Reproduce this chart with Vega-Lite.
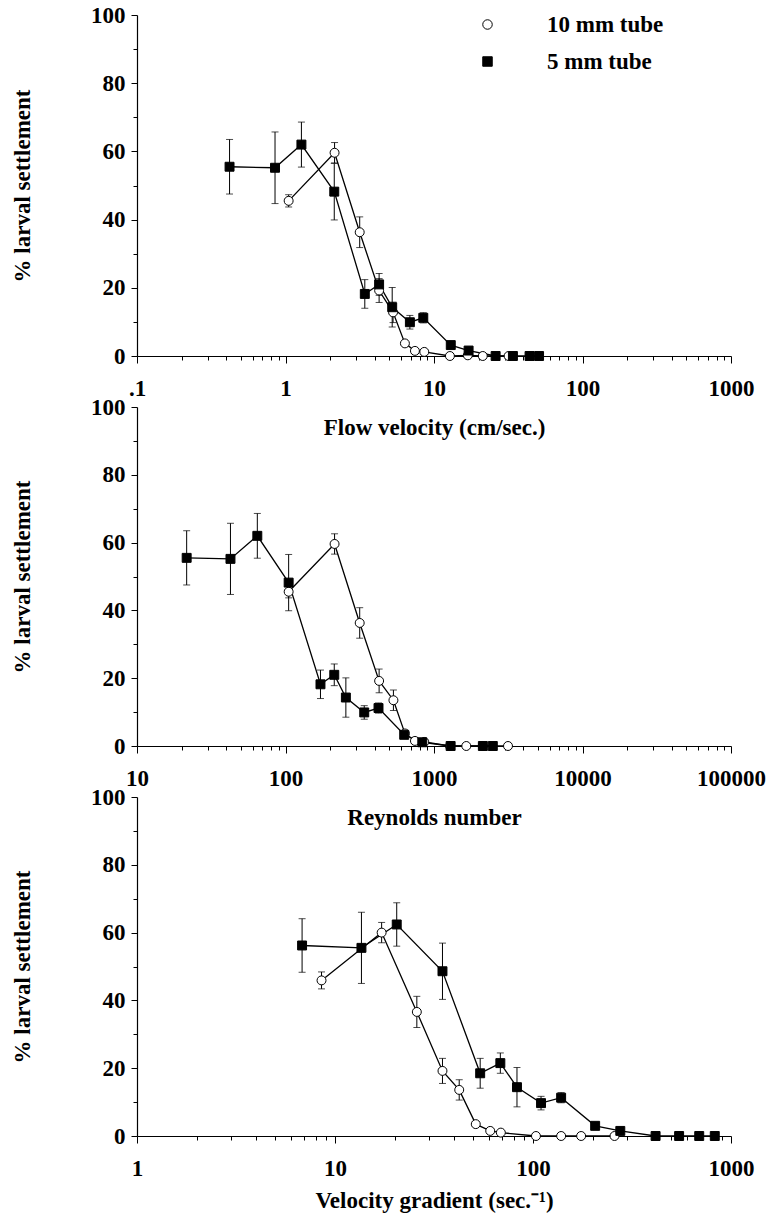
{
  "$schema": "https://vega.github.io/schema/vega-lite/v6.json",
  "padding": {"left": 11, "top": 4, "right": 5, "bottom": 5},
  "background": "white",
  "bounds": "flush",
  "spacing": 51,
  "config": {
    "view": {"stroke": null},
    "axis": {
      "labelFont": "Liberation Serif", "labelFontSize": 23, "labelFontWeight": "bold", "labelColor": "black",
      "titleFont": "Liberation Serif", "titleFontSize": 23, "titleFontWeight": "bold", "titleColor": "black",
      "domainColor": "black", "domainWidth": 1.2, "tickColor": "black", "tickWidth": 1, "grid": false,
      "labelOverlap": false, "labelFlush": false
    },
    "legend": {"labelFont": "Liberation Serif", "labelFontSize": 23, "labelFontWeight": "bold", "labelColor": "black"}
  },
  "datasets": {
    "vel": [
      {"tube": "10 mm tube", "x": 1.05, "y": 45.5, "e": 1.8},
      {"tube": "10 mm tube", "x": 2.14, "y": 59.6, "e": 3},
      {"tube": "10 mm tube", "x": 3.16, "y": 36.3, "e": 4.5},
      {"tube": "10 mm tube", "x": 4.27, "y": 19.2, "e": 3.5},
      {"tube": "10 mm tube", "x": 5.3, "y": 12.8, "e": 3},
      {"tube": "10 mm tube", "x": 6.37, "y": 3.7, "e": 0},
      {"tube": "10 mm tube", "x": 7.44, "y": 1.5, "e": 0},
      {"tube": "10 mm tube", "x": 8.6, "y": 1.2, "e": 0},
      {"tube": "10 mm tube", "x": 12.8, "y": 0, "e": 0},
      {"tube": "10 mm tube", "x": 16.9, "y": 0.2, "e": 0},
      {"tube": "10 mm tube", "x": 21.3, "y": 0, "e": 0},
      {"tube": "10 mm tube", "x": 31.8, "y": 0, "e": 0},
      {"tube": "5 mm tube", "x": 0.42, "y": 55.5, "e": 8},
      {"tube": "5 mm tube", "x": 0.85, "y": 55.2, "e": 10.5},
      {"tube": "5 mm tube", "x": 1.28, "y": 62.0, "e": 6.6},
      {"tube": "5 mm tube", "x": 2.13, "y": 48.2, "e": 8.3},
      {"tube": "5 mm tube", "x": 3.42, "y": 18.2, "e": 4.2},
      {"tube": "5 mm tube", "x": 4.27, "y": 21.0, "e": 3.2},
      {"tube": "5 mm tube", "x": 5.23, "y": 14.3, "e": 5.8},
      {"tube": "5 mm tube", "x": 6.88, "y": 9.9, "e": 2},
      {"tube": "5 mm tube", "x": 8.47, "y": 11.2, "e": 1.5},
      {"tube": "5 mm tube", "x": 12.97, "y": 3.2, "e": 0},
      {"tube": "5 mm tube", "x": 17.1, "y": 1.6, "e": 0},
      {"tube": "5 mm tube", "x": 26, "y": 0, "e": 0},
      {"tube": "5 mm tube", "x": 34, "y": 0, "e": 0},
      {"tube": "5 mm tube", "x": 44, "y": 0, "e": 0},
      {"tube": "5 mm tube", "x": 51, "y": 0, "e": 0}
    ],
    "re": [
      {"tube": "10 mm tube", "x": 105, "y": 45.5, "e": 1.8},
      {"tube": "10 mm tube", "x": 214, "y": 59.6, "e": 3},
      {"tube": "10 mm tube", "x": 316, "y": 36.3, "e": 4.5},
      {"tube": "10 mm tube", "x": 427, "y": 19.2, "e": 3.5},
      {"tube": "10 mm tube", "x": 533, "y": 13.5, "e": 3},
      {"tube": "10 mm tube", "x": 637, "y": 3.7, "e": 0},
      {"tube": "10 mm tube", "x": 744, "y": 1.5, "e": 0},
      {"tube": "10 mm tube", "x": 860, "y": 1.2, "e": 0},
      {"tube": "10 mm tube", "x": 1280, "y": 0, "e": 0},
      {"tube": "10 mm tube", "x": 1650, "y": 0, "e": 0},
      {"tube": "10 mm tube", "x": 2130, "y": 0, "e": 0},
      {"tube": "10 mm tube", "x": 3150, "y": 0, "e": 0},
      {"tube": "5 mm tube", "x": 21.6, "y": 55.5, "e": 8},
      {"tube": "5 mm tube", "x": 42.6, "y": 55.2, "e": 10.5},
      {"tube": "5 mm tube", "x": 64.6, "y": 62.0, "e": 6.6},
      {"tube": "5 mm tube", "x": 105, "y": 48.2, "e": 8.3},
      {"tube": "5 mm tube", "x": 172, "y": 18.2, "e": 4.2},
      {"tube": "5 mm tube", "x": 213, "y": 21.0, "e": 3.2},
      {"tube": "5 mm tube", "x": 255, "y": 14.3, "e": 5.8},
      {"tube": "5 mm tube", "x": 339, "y": 9.9, "e": 2},
      {"tube": "5 mm tube", "x": 423, "y": 11.2, "e": 1.5},
      {"tube": "5 mm tube", "x": 630, "y": 3.3, "e": 0},
      {"tube": "5 mm tube", "x": 834, "y": 1.1, "e": 0},
      {"tube": "5 mm tube", "x": 1294, "y": 0, "e": 0},
      {"tube": "5 mm tube", "x": 2133, "y": 0, "e": 0},
      {"tube": "5 mm tube", "x": 2489, "y": 0, "e": 0}
    ],
    "grad": [
      {"tube": "10 mm tube", "x": 8.55, "y": 45.9, "e": 2.5},
      {"tube": "10 mm tube", "x": 17.2, "y": 60.0, "e": 3},
      {"tube": "10 mm tube", "x": 25.9, "y": 36.6, "e": 4.6},
      {"tube": "10 mm tube", "x": 34.9, "y": 19.2, "e": 3.7},
      {"tube": "10 mm tube", "x": 42.4, "y": 13.6, "e": 3},
      {"tube": "10 mm tube", "x": 51.4, "y": 3.5, "e": 0},
      {"tube": "10 mm tube", "x": 60.8, "y": 1.5, "e": 0},
      {"tube": "10 mm tube", "x": 68.8, "y": 1.0, "e": 0},
      {"tube": "10 mm tube", "x": 103.5, "y": 0, "e": 0},
      {"tube": "10 mm tube", "x": 138.7, "y": 0, "e": 0},
      {"tube": "10 mm tube", "x": 175, "y": 0, "e": 0},
      {"tube": "10 mm tube", "x": 258, "y": 0, "e": 0},
      {"tube": "5 mm tube", "x": 6.82, "y": 56.2, "e": 7.9},
      {"tube": "5 mm tube", "x": 13.6, "y": 55.5, "e": 10.5},
      {"tube": "5 mm tube", "x": 20.5, "y": 62.4, "e": 6.4},
      {"tube": "5 mm tube", "x": 34.9, "y": 48.6, "e": 8.3},
      {"tube": "5 mm tube", "x": 54.1, "y": 18.5, "e": 4.4},
      {"tube": "5 mm tube", "x": 68.4, "y": 21.5, "e": 3},
      {"tube": "5 mm tube", "x": 83, "y": 14.4, "e": 5.8},
      {"tube": "5 mm tube", "x": 109.8, "y": 9.7, "e": 2},
      {"tube": "5 mm tube", "x": 138.7, "y": 11.3, "e": 1.5},
      {"tube": "5 mm tube", "x": 206, "y": 3.0, "e": 0},
      {"tube": "5 mm tube", "x": 276, "y": 1.5, "e": 0},
      {"tube": "5 mm tube", "x": 416, "y": 0, "e": 0},
      {"tube": "5 mm tube", "x": 547, "y": 0, "e": 0},
      {"tube": "5 mm tube", "x": 691, "y": 0, "e": 0},
      {"tube": "5 mm tube", "x": 828, "y": 0, "e": 0}
    ]
  },
  "vconcat": [
    {
      "width": 594, "height": 341,
      "data": {"name": "vel"},
      "layer": [
        {"mark": {"type": "line", "color": "black", "strokeWidth": 1.3},
         "encoding": {"x": {"field": "x", "type": "quantitative"}, "y": {"field": "y", "type": "quantitative"}, "detail": {"field": "tube"}}},
        {"transform": [{"filter": "datum.e > 0"}],
         "mark": {"type": "errorbar", "color": "black", "ticks": {"size": 7, "color": "black"}, "rule": {"strokeWidth": 1}},
         "encoding": {"x": {"field": "x", "type": "quantitative"}, "y": {"field": "y", "type": "quantitative"}, "yError": {"field": "e"}}},
        {"mark": {"type": "point", "filled": true, "strokeWidth": 1, "opacity": 1, "size": 80},
         "encoding": {
           "x": {"field": "x", "type": "quantitative"},
           "y": {"field": "y", "type": "quantitative"},
           "shape": {"field": "tube", "type": "nominal", "scale": {"domain": ["10 mm tube", "5 mm tube"], "range": ["circle", "square"]},
             "legend": {"orient": "none", "legendX": 339, "legendY": -2, "title": null, "padding": 0, "symbolSize": 90, "labelOffset": 48, "rowPadding": 13, "symbolStrokeWidth": 1}},
           "fill": {"field": "tube", "type": "nominal", "scale": {"domain": ["10 mm tube", "5 mm tube"], "range": ["white", "black"]}},
           "stroke": {"field": "tube", "type": "nominal", "scale": {"domain": ["10 mm tube", "5 mm tube"], "range": ["black", "black"]}}
         }}
      ],
      "encoding": {
        "x": {"field": "x", "type": "quantitative",
          "scale": {"type": "log", "domain": [0.1, 1000], "nice": false},
          "axis": {"title": "Flow velocity (cm/sec.)",
            "values": [0.1,0.2,0.3,0.4,0.5,0.6,0.7,0.8,0.9,1,2,3,4,5,6,7,8,9,10,20,30,40,50,60,70,80,90,100,200,300,400,500,600,700,800,900,1000],
            "labelExpr": "abs(log(datum.value)/LN10 - round(log(datum.value)/LN10)) < 0.001 ? (datum.value < 1 ? '.1' : format(datum.value, 'd')) : ''",
            "tickSize": {"condition": {"test": "abs(log(datum.value)/LN10 - round(log(datum.value)/LN10)) < 0.001", "value": 7}, "value": 4},
            "labelPadding": 14, "titlePadding": 16}},
        "y": {"field": "y", "type": "quantitative",
          "scale": {"domain": [0, 100], "nice": false},
          "axis": {"title": "% larval settlement", "values": [0,10,20,30,40,50,60,70,80,90,100],
            "labelExpr": "datum.value % 20 == 0 ? format(datum.value, 'd') : ''",
            "tickSize": {"condition": {"test": "datum.value % 20 == 0", "value": 6}, "value": 4},
            "labelPadding": 6, "titlePadding": 56}}
      }
    },
    {
      "width": 594, "height": 339,
      "data": {"name": "re"},
      "layer": [
        {"mark": {"type": "line", "color": "black", "strokeWidth": 1.3},
         "encoding": {"x": {"field": "x", "type": "quantitative"}, "y": {"field": "y", "type": "quantitative"}, "detail": {"field": "tube"}}},
        {"transform": [{"filter": "datum.e > 0"}],
         "mark": {"type": "errorbar", "color": "black", "ticks": {"size": 7, "color": "black"}, "rule": {"strokeWidth": 1}},
         "encoding": {"x": {"field": "x", "type": "quantitative"}, "y": {"field": "y", "type": "quantitative"}, "yError": {"field": "e"}}},
        {"mark": {"type": "point", "filled": true, "stroke": "black", "strokeWidth": 1, "opacity": 1, "size": 80},
         "encoding": {
           "x": {"field": "x", "type": "quantitative"},
           "y": {"field": "y", "type": "quantitative"},
           "shape": {"field": "tube", "type": "nominal", "scale": {"domain": ["10 mm tube", "5 mm tube"], "range": ["circle", "square"]}, "legend": null},
           "fill": {"field": "tube", "type": "nominal", "scale": {"domain": ["10 mm tube", "5 mm tube"], "range": ["white", "black"]}, "legend": null}
         }}
      ],
      "encoding": {
        "x": {"field": "x", "type": "quantitative",
          "scale": {"type": "log", "domain": [10, 100000], "nice": false},
          "axis": {"title": "Reynolds number",
            "values": [10,20,30,40,50,60,70,80,90,100,200,300,400,500,600,700,800,900,1000,2000,3000,4000,5000,6000,7000,8000,9000,10000,20000,30000,40000,50000,60000,70000,80000,90000,100000],
            "labelExpr": "abs(log(datum.value)/LN10 - round(log(datum.value)/LN10)) < 0.001 ? format(datum.value, 'd') : ''",
            "tickSize": {"condition": {"test": "abs(log(datum.value)/LN10 - round(log(datum.value)/LN10)) < 0.001", "value": 7}, "value": 4},
            "labelPadding": 14, "titlePadding": 16}},
        "y": {"field": "y", "type": "quantitative",
          "scale": {"domain": [0, 100], "nice": false},
          "axis": {"title": "% larval settlement", "values": [0,10,20,30,40,50,60,70,80,90,100],
            "labelExpr": "datum.value % 20 == 0 ? format(datum.value, 'd') : ''",
            "tickSize": {"condition": {"test": "datum.value % 20 == 0", "value": 6}, "value": 4},
            "labelPadding": 6, "titlePadding": 56}}
      }
    },
    {
      "width": 594, "height": 339,
      "data": {"name": "grad"},
      "layer": [
        {"mark": {"type": "line", "color": "black", "strokeWidth": 1.3},
         "encoding": {"x": {"field": "x", "type": "quantitative"}, "y": {"field": "y", "type": "quantitative"}, "detail": {"field": "tube"}}},
        {"transform": [{"filter": "datum.e > 0"}],
         "mark": {"type": "errorbar", "color": "black", "ticks": {"size": 7, "color": "black"}, "rule": {"strokeWidth": 1}},
         "encoding": {"x": {"field": "x", "type": "quantitative"}, "y": {"field": "y", "type": "quantitative"}, "yError": {"field": "e"}}},
        {"mark": {"type": "point", "filled": true, "stroke": "black", "strokeWidth": 1, "opacity": 1, "size": 80},
         "encoding": {
           "x": {"field": "x", "type": "quantitative"},
           "y": {"field": "y", "type": "quantitative"},
           "shape": {"field": "tube", "type": "nominal", "scale": {"domain": ["10 mm tube", "5 mm tube"], "range": ["circle", "square"]}, "legend": null},
           "fill": {"field": "tube", "type": "nominal", "scale": {"domain": ["10 mm tube", "5 mm tube"], "range": ["white", "black"]}, "legend": null}
         }}
      ],
      "encoding": {
        "x": {"field": "x", "type": "quantitative",
          "scale": {"type": "log", "domain": [1, 1000], "nice": false},
          "axis": {"title": "Velocity gradient (sec.⁻¹)",
            "values": [1,2,3,4,5,6,7,8,9,10,20,30,40,50,60,70,80,90,100,200,300,400,500,600,700,800,900,1000],
            "labelExpr": "abs(log(datum.value)/LN10 - round(log(datum.value)/LN10)) < 0.001 ? format(datum.value, 'd') : ''",
            "tickSize": {"condition": {"test": "abs(log(datum.value)/LN10 - round(log(datum.value)/LN10)) < 0.001", "value": 7}, "value": 4},
            "labelPadding": 14, "titlePadding": 9}},
        "y": {"field": "y", "type": "quantitative",
          "scale": {"domain": [0, 100], "nice": false},
          "axis": {"title": "% larval settlement", "values": [0,10,20,30,40,50,60,70,80,90,100],
            "labelExpr": "datum.value % 20 == 0 ? format(datum.value, 'd') : ''",
            "tickSize": {"condition": {"test": "datum.value % 20 == 0", "value": 6}, "value": 4},
            "labelPadding": 6, "titlePadding": 56}}
      }
    }
  ],
  "resolve": {"scale": {"x": "independent", "y": "independent", "shape": "independent", "fill": "independent", "stroke": "independent"}}
}
